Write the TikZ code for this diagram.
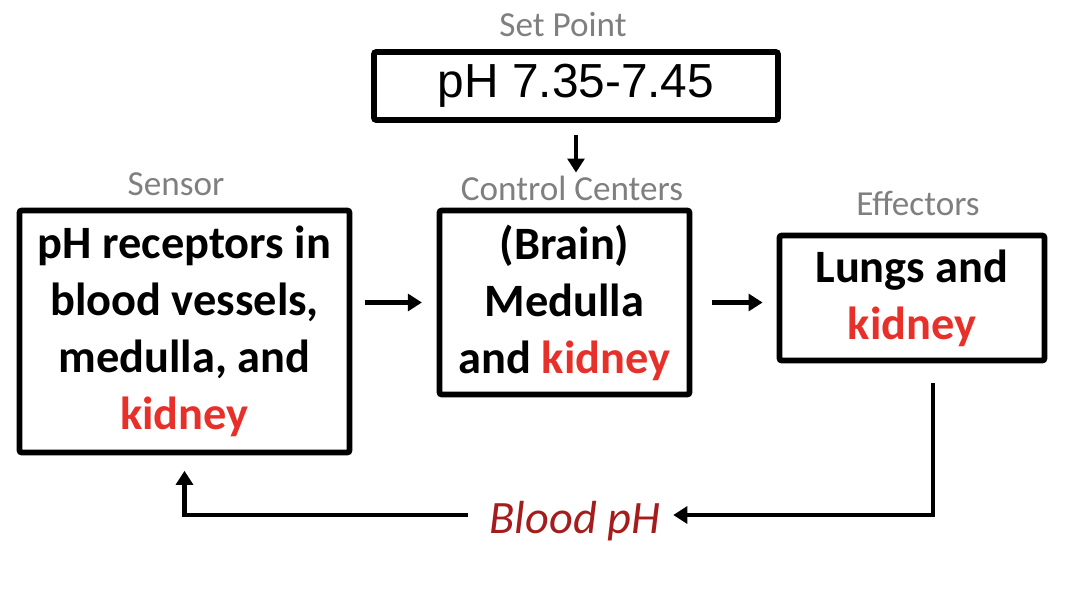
\documentclass[tikz,border=0pt]{standalone}
\usepackage{fontspec}
\setmainfont{Carlito}
\newfontfamily\arialfont{Liberation Sans}
\usepackage{tikz}
\usetikzlibrary{arrows.meta,positioning,calc}
\definecolor{labelgray}{HTML}{7F7F7F}
\definecolor{kidneyred}{HTML}{E8302A}
\definecolor{bloodred}{HTML}{A51C1C}
\newcommand{\kid}{\textcolor{kidneyred}{kidney}}

\begin{document}
\begin{tikzpicture}[x=0.025cm, y=-0.025cm,
    box/.style={draw, line width=4pt, rounded corners=1.5pt, align=center, inner sep=0pt,
                font=\fontsize{33}{40.5}\selectfont\bfseries},
    lbl/.style={text=labelgray, inner sep=0pt, font=\fontsize{25}{30}\selectfont},
    arr/.style={-{Triangle[length=10pt,width=12pt]}, line width=3.4pt}]
    \useasboundingbox (0,0) rectangle (1068,600);

    % Set point
    \node[lbl] (setlbl) at (563,25) {Set Point};
    \node[draw, line width=4pt, rounded corners=1.5pt, minimum width=404*0.025cm, minimum height=68*0.025cm,
          font=\arialfont\fontsize{34}{40}\selectfont] (setpt) at (576,86) {pH 7.35-7.45};

    % Boxes
    \node[lbl] (senslbl) at (176,184) {Sensor};
    \node[box, minimum width=330*0.025cm, minimum height=242*0.025cm] (sensor) at (184.5,331.5)
        {pH receptors in\\ blood vessels,\\ medulla, and\\ \kid};

    \node[lbl] (ctrllbl) at (572,188) {Control Centers};
    \node[box, minimum width=250*0.025cm, minimum height=184*0.025cm] (ctrl) at (564.5,302.5)
        {(Brain)\\ Medulla\\ and \kid};

    \node[lbl] (efflbl) at (918,203) {Effectors};
    \node[box, minimum width=265*0.025cm, minimum height=125*0.025cm] (eff) at (912,298)
        {Lungs and\\ \kid};

    % Arrows
    \draw[arr, shorten <=9pt, shorten >=2pt] (setpt.south) -- (setpt.south |- ctrllbl.north);
    \draw[arr, shorten <=9pt, shorten >=10.5pt] (sensor.east |- ctrl.center) -- (ctrl.west);
    \draw[arr, shorten <=14pt, shorten >=10pt] (ctrl.east) -- (eff.west |- ctrl.east);

    % Feedback
    \node[text=bloodred, inner xsep=9pt, inner ysep=0pt, font=\fontsize{33}{40}\selectfont\itshape] (blood) at (575,521) {Blood pH};
    \coordinate (fbmid) at (575,515);
    \coordinate (fbtop) at (933,383);
    \draw[arr] (fbtop) |- (blood.east |- fbmid);
    \draw[arr, shorten >=11pt] ([xshift=-6pt]blood.west |- fbmid) -| (sensor.south);
\end{tikzpicture}
\end{document}
